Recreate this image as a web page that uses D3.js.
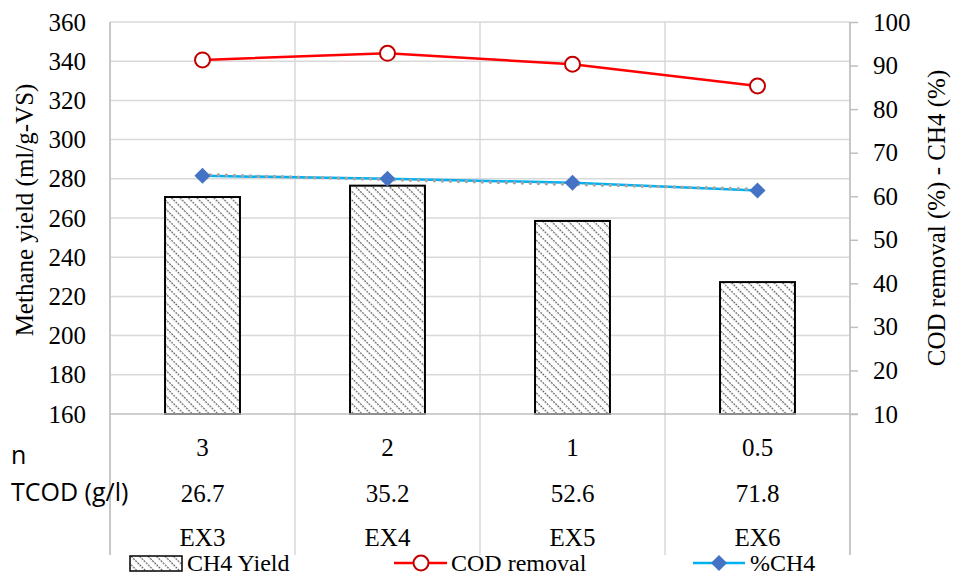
<!DOCTYPE html>
<html>
<head>
<meta charset="utf-8">
<script src="https://cdn.jsdelivr.net/npm/d3@7"></script>
<style>
  html, body { margin: 0; padding: 0; background: #fff; }
  svg { display: block; }
</style>
</head>
<body>
<svg id="chart" width="954" height="579"></svg>
<script>
// Chart data
const experiments = ['EX3', 'EX4', 'EX5', 'EX6'];
const nValues = ['3', '2', '1', '0.5'];
const tcodValues = ['26.7', '35.2', '52.6', '71.8'];
const ch4Yield = [270.7, 276.5, 258.5, 227.3];
const codRemoval = [91.3, 92.8, 90.3, 85.3];
const ch4Percent = [64.7, 64.0, 63.1, 61.3];
const leftTicks = [160, 180, 200, 220, 240, 260, 280, 300, 320, 340, 360];
const rightTicks = [10, 20, 30, 40, 50, 60, 70, 80, 90, 100];

const SERIF = "'Liberation Serif', 'Times New Roman', 'DejaVu Serif', serif";
const SANS = "'Open Sans', 'Liberation Sans', sans-serif";

const svg = d3.select('#chart');
const margin = { left: 110, right: 104, top: 22, bottom: 165 };
const width = 954, height = 579;
const plotBottom = height - margin.bottom;   // 414
const plotRight = width - margin.right;      // 850
const labelBottom = 555;

const x = d3.scaleBand()
    .domain(experiments)
    .range([margin.left, plotRight])
    .paddingInner(0)
    .paddingOuter(0);

const yLeft = d3.scaleLinear().domain([160, 360]).range([plotBottom, margin.top]);
const yRight = d3.scaleLinear().domain([10, 100]).range([plotBottom, margin.top]);

// Hatch pattern for bars
const defs = svg.append('defs');
const pattern = defs.append('pattern')
    .attr('id', 'hatch')
    .attr('patternUnits', 'userSpaceOnUse')
    .attr('width', 6)
    .attr('height', 6)
    .attr('patternTransform', 'rotate(45)');
pattern.append('rect').attr('width', 6).attr('height', 6).attr('fill', '#fff');
pattern.append('line')
    .attr('x1', 0).attr('y1', 0).attr('x2', 6).attr('y2', 0)
    .attr('stroke', '#666')
    .attr('stroke-width', 2.5)
    .attr('stroke-dasharray', '2,1');

// Horizontal gridlines
svg.append('g')
    .selectAll('line')
    .data(leftTicks.slice(1))
    .enter().append('line')
    .attr('x1', margin.left)
    .attr('x2', plotRight)
    .attr('y1', d => yLeft(d))
    .attr('y2', d => yLeft(d))
    .attr('stroke', '#d9d9d9')
    .attr('stroke-width', 1.5);

// Vertical category dividers (run through the label area)
const dividers = experiments.map(d => x(d)).concat([plotRight]);
svg.append('g')
    .selectAll('line')
    .data(dividers)
    .enter().append('line')
    .attr('x1', d => d)
    .attr('x2', d => d)
    .attr('y1', margin.top)
    .attr('y2', labelBottom)
    .attr('stroke', '#d9d9d9')
    .attr('stroke-width', 1.5);

// Axis frame lines
svg.append('line')
    .attr('x1', margin.left).attr('x2', margin.left)
    .attr('y1', margin.top).attr('y2', labelBottom)
    .attr('stroke', '#bfbfbf').attr('stroke-width', 1.5);
svg.append('line')
    .attr('x1', plotRight).attr('x2', plotRight)
    .attr('y1', margin.top).attr('y2', labelBottom)
    .attr('stroke', '#bfbfbf').attr('stroke-width', 1.5);

// Bars
const barWidth = x.bandwidth() * 0.405;
svg.append('g')
    .selectAll('rect')
    .data(ch4Yield)
    .enter().append('rect')
    .attr('x', (d, i) => x(experiments[i]) + x.bandwidth() / 2 - barWidth / 2)
    .attr('y', d => yLeft(d))
    .attr('width', barWidth)
    .attr('height', d => plotBottom - yLeft(d))
    .attr('fill', 'url(#hatch)')
    .attr('stroke', '#000')
    .attr('stroke-width', 2);

// Bottom axis line
svg.append('line')
    .attr('x1', margin.left).attr('x2', plotRight + 8)
    .attr('y1', plotBottom).attr('y2', plotBottom)
    .attr('stroke', '#bfbfbf').attr('stroke-width', 1.5);

// Left axis labels
const leftAxis = d3.axisLeft(yLeft).tickValues(leftTicks).tickSize(0).tickPadding(24);
svg.append('g')
    .attr('transform', `translate(${margin.left},0)`)
    .call(leftAxis)
    .attr('font-family', SERIF)
    .attr('font-size', 25)
    .call(g => g.select('.domain').remove())
    .call(g => g.selectAll('text').attr('fill', '#000'));

// Right axis with outward ticks
const rightAxis = d3.axisRight(yRight).tickValues(rightTicks).tickSize(8).tickPadding(15);
svg.append('g')
    .attr('transform', `translate(${plotRight},0)`)
    .call(rightAxis)
    .attr('font-family', SERIF)
    .attr('font-size', 25)
    .call(g => g.select('.domain').remove())
    .call(g => g.selectAll('line').attr('stroke', '#bfbfbf').attr('stroke-width', 1.5))
    .call(g => g.selectAll('text').attr('fill', '#000'));

// Linear trendline for %CH4
const cx = (d, i) => x(experiments[i]) + x.bandwidth() / 2;
const xs = ch4Percent.map((d, i) => i + 1);
const mx = d3.mean(xs), my = d3.mean(ch4Percent);
const slope = d3.sum(xs, (v, i) => (v - mx) * (ch4Percent[i] - my)) / d3.sum(xs, v => (v - mx) * (v - mx));
const intercept = my - slope * mx;
const trend = xs.map(v => intercept + slope * v);

// %CH4 line
const lineRight = d3.line()
    .x((d, i) => cx(d, i))
    .y(d => yRight(d));

svg.append('path')
    .datum(ch4Percent)
    .attr('d', lineRight)
    .attr('fill', 'none')
    .attr('stroke', '#00b0f0')
    .attr('stroke-width', 2.5);

svg.append('path')
    .datum(trend)
    .attr('d', lineRight)
    .attr('fill', 'none')
    .attr('stroke', '#a5a5a5')
    .attr('stroke-width', 3.5)
    .attr('stroke-linecap', 'round')
    .attr('stroke-dasharray', '0,8');

const diamond = d3.symbol().type(d3.symbolSquare).size(130);
svg.append('g')
    .selectAll('path')
    .data(ch4Percent)
    .enter().append('path')
    .attr('d', diamond)
    .attr('transform', (d, i) => `translate(${cx(d, i)},${yRight(d)}) rotate(45)`)
    .attr('fill', '#4472c4');

// COD removal line
svg.append('path')
    .datum(codRemoval)
    .attr('d', lineRight)
    .attr('fill', 'none')
    .attr('stroke', '#ff0000')
    .attr('stroke-width', 2.5);

svg.append('g')
    .selectAll('circle')
    .data(codRemoval)
    .enter().append('circle')
    .attr('cx', (d, i) => cx(d, i))
    .attr('cy', d => yRight(d))
    .attr('r', 7.5)
    .attr('fill', '#fff')
    .attr('stroke', '#c00000')
    .attr('stroke-width', 2);

// Category label rows
const rows = [
    { values: nValues, y: 447 },
    { values: tcodValues, y: 493 },
    { values: experiments, y: 537 }
];
rows.forEach(row => {
    svg.append('g')
        .selectAll('text')
        .data(row.values)
        .enter().append('text')
        .attr('font-family', SERIF)
        .attr('x', (d, i) => x(experiments[i]) + x.bandwidth() / 2)
        .attr('y', row.y)
        .attr('dy', '0.35em')
        .attr('text-anchor', 'middle')
        .attr('font-size', 25)
        .text(d => d);
});

// Row headers
svg.append('text')
    .attr('font-family', SANS)
    .attr('x', 11).attr('y', 455).attr('dy', '0.35em')
    .attr('font-size', 25)
    .text('n');
svg.append('text')
    .attr('font-family', SANS)
    .attr('x', 11).attr('y', 492).attr('dy', '0.35em')
    .attr('font-size', 25)
    .text('TCOD (g/l)');

// Axis titles
svg.append('text')
    .attr('font-family', SERIF)
    .attr('transform', `translate(33,${(margin.top + plotBottom) / 2 - 8}) rotate(-90)`)
    .attr('text-anchor', 'middle')
    .attr('font-size', 25)
    .text('Methane yield (ml/g-VS)');
svg.append('text')
    .attr('font-family', SERIF)
    .attr('transform', `translate(945,${(margin.top + plotBottom) / 2}) rotate(-90)`)
    .attr('text-anchor', 'middle')
    .attr('font-size', 25)
    .text('COD removal (%) - CH4 (%)');

// Legend
const legend = svg.append('g').attr('font-family', SERIF);
const legendY = 563;

legend.append('rect')
    .attr('x', 130).attr('y', legendY - 7)
    .attr('width', 52).attr('height', 15)
    .attr('fill', 'url(#hatch)')
    .attr('stroke', '#000')
    .attr('stroke-width', 1.5);
legend.append('text')
    .attr('x', 187).attr('y', legendY).attr('dy', '0.35em')
    .attr('font-size', 24)
    .text('CH4 Yield');

legend.append('line')
    .attr('x1', 394).attr('x2', 447)
    .attr('y1', legendY).attr('y2', legendY)
    .attr('stroke', '#ff0000').attr('stroke-width', 2.5);
legend.append('circle')
    .attr('cx', 421).attr('cy', legendY).attr('r', 7.5)
    .attr('fill', '#fff').attr('stroke', '#c00000').attr('stroke-width', 2);
legend.append('text')
    .attr('x', 451).attr('y', legendY).attr('dy', '0.35em')
    .attr('font-size', 24)
    .text('COD removal');

legend.append('line')
    .attr('x1', 693).attr('x2', 745)
    .attr('y1', legendY).attr('y2', legendY)
    .attr('stroke', '#00b0f0').attr('stroke-width', 2.5);
legend.append('path')
    .attr('d', diamond)
    .attr('transform', `translate(719,${legendY}) rotate(45)`)
    .attr('fill', '#4472c4');
legend.append('text')
    .attr('x', 750).attr('y', legendY).attr('dy', '0.35em')
    .attr('font-size', 24)
    .text('%CH4');
</script>
</body>
</html>
